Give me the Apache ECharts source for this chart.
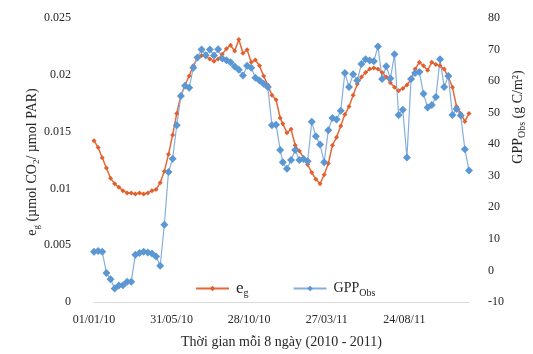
<!DOCTYPE html>
<html><head><meta charset="utf-8">
<script src="https://cdn.jsdelivr.net/npm/echarts@6/dist/echarts.min.js"></script>
<style>html,body{margin:0;padding:0;background:#fff}#c{width:533px;height:354px}</style>
</head><body><div id="c"></div>
<script>
// Day offset from 01/01/2010 of each 8-day composite
const days = [0,8,16,24,32,40,48,56,64,72,80,88,96,104,112,120,128,136,144,152,160,168,176,184,192,200,208,216,224,232,240,248,256,264,272,280,288,296,304,312,320,328,336,344,352,360,
  365,373,381,389,397,405,413,421,429,437,445,453,461,469,477,485,493,501,509,517,525,533,541,549,557,565,573,581,589,597,605,613,621,629,637,645,653,661,669,677,685,693,701,709,717,725];
// e_g (umol CO2 / umol PAR)
const eg = [0.0142,0.0136,0.0127,0.0118,0.0109,0.0104,0.0101,0.0098,0.0096,0.0096,0.0095,0.0096,0.0095,0.0096,0.0098,0.0099,0.0105,0.0115,0.0130,0.0147,0.0166,0.0182,0.0191,0.0199,0.0208,0.0215,0.0217,0.0216,0.0214,0.0212,0.0214,0.0218,0.0223,0.0226,0.0221,0.0231,0.0219,0.0222,0.0211,0.0213,0.0208,0.0199,0.0191,0.0182,0.0178,0.0162,
  0.0157,0.0149,0.0152,0.0138,0.0133,0.0127,0.0121,0.0114,0.0108,0.0104,0.0112,0.0122,0.0138,0.0145,0.0155,0.0165,0.0172,0.0182,0.0192,0.0198,0.0202,0.0205,0.0206,0.0205,0.0202,0.0198,0.0193,0.0189,0.0186,0.0188,0.0191,0.0196,0.0205,0.0211,0.0208,0.0204,0.0211,0.0209,0.0208,0.0205,0.0198,0.0189,0.0172,0.0166,0.0159,0.0166];
// GPP_Obs (g C/m2)
const gpp = [5.9,6.2,5.9,-0.8,-2.8,-5.7,-4.8,-4.7,-3.6,-3.6,5.0,5.5,5.9,5.7,5.4,4.4,1.5,14.5,31.2,35.4,46.0,55.3,58.5,57.9,64.2,67.5,70.0,68.2,70.0,68.1,70.1,67.2,66.6,66.0,64.6,63.6,61.8,64.9,64.2,61.1,60.2,59.2,58.1,46.0,46.2,38.2,
  34.3,32.2,35.0,38.2,35.0,35.3,34.6,47.1,42.5,39.9,34.3,44.4,48.3,47.8,50.6,62.6,58.1,62.2,60.2,65.4,66.9,66.5,66.3,71.0,60.7,64.7,60.8,68.5,49.3,50.9,35.8,60.7,62.6,62.9,56.0,51.6,52.4,55.0,66.9,58.1,61.6,49.3,51.2,49.1,38.4,31.7];
const tickDays = [0,150,300,450,600];
const tickLabels = ['01/01/10','31/05/10','28/10/10','27/03/11','24/08/11'];

const FONT = "'Liberation Serif','Times New Roman',serif";
const TXT = '#262626';
const chart = echarts.init(document.getElementById('c'));
chart.setOption({
  animation:false,
  textStyle:{fontFamily:FONT,color:TXT},
  grid:{left:94,right:64,top:18,bottom:47,containLabel:false},
  legend:{
    left:190, top:275, itemWidth:33, itemHeight:7, itemGap:44,
    data:['eg','GPP'],
    formatter:n=> n==='eg' ? '{a|e}{s|g}' : '{b|GPP}{s|Obs}',
    textStyle:{fontFamily:FONT,color:TXT,padding:[0,0,0,2],
      rich:{a:{fontSize:17,fontFamily:FONT,color:TXT,lineHeight:20,verticalAlign:'middle'},
            b:{fontSize:14,fontFamily:FONT,color:TXT,lineHeight:20,verticalAlign:'middle'},
            s:{fontSize:10,fontFamily:FONT,color:TXT,lineHeight:10,verticalAlign:'bottom'}}}
  },
  xAxis:{type:'value',min:0,max:725,interval:150,
    name:'Thời gian mỗi 8 ngày (2010 - 2011)',nameLocation:'middle',nameGap:33,
    nameTextStyle:{fontFamily:FONT,fontSize:14,color:TXT},
    axisLine:{show:true,lineStyle:{color:'#D9D9D9',width:1}},
    axisTick:{show:false},splitLine:{show:false},
    axisLabel:{fontFamily:FONT,fontSize:12,color:TXT,margin:12,showMaxLabel:false,
      formatter:v=>{const k=tickDays.indexOf(v);return k>=0?tickLabels[k]:'';}}
  },
  yAxis:[
    {type:'value',min:0,max:0.025,interval:0.005,position:'left',
     axisLine:{show:false},axisTick:{show:false},splitLine:{show:false},
     axisLabel:{fontFamily:FONT,fontSize:12,color:TXT,margin:23}},
    {type:'value',min:-10,max:80,interval:10,position:'right',
     axisLine:{show:false},axisTick:{show:false},splitLine:{show:false},
     axisLabel:{fontFamily:FONT,fontSize:12,color:TXT,margin:19}}
  ],
  graphic:[
    {type:'text',x:32,y:162,rotation:Math.PI/2,
     style:{text:'{a|e}{s|g}{a| (µmol CO}{s|2}{a|/ µmol PAR)}',align:'center',verticalAlign:'middle',
       rich:{a:{fontSize:14,fontFamily:FONT,fill:TXT,lineHeight:18,verticalAlign:'middle'},
             s:{fontSize:9,fontFamily:FONT,fill:TXT,lineHeight:9,verticalAlign:'bottom'}}}},
    {type:'text',x:518,y:117,rotation:Math.PI/2,
     style:{text:'{a|GPP}{s|Obs}{a| (g C/m²)}',align:'center',verticalAlign:'middle',
       rich:{a:{fontSize:14,fontFamily:FONT,fill:TXT,lineHeight:18,verticalAlign:'middle'},
             s:{fontSize:10,fontFamily:FONT,fill:TXT,lineHeight:10,verticalAlign:'bottom'}}}}
  ],
  series:[
    {name:'eg',type:'line',yAxisIndex:0,data:days.map((d,i)=>[d,eg[i]]),
     symbol:'diamond',symbolSize:5,lineStyle:{color:'#E5683A',width:1.5},itemStyle:{color:'#E2602E'}},
    {name:'GPP',type:'line',yAxisIndex:1,data:days.map((d,i)=>[d,gpp[i]]),
     symbol:'diamond',symbolSize:8,lineStyle:{color:'#86AEDC',width:1.2},itemStyle:{color:'#5B97D3'}}
  ]
});
</script></body></html>
